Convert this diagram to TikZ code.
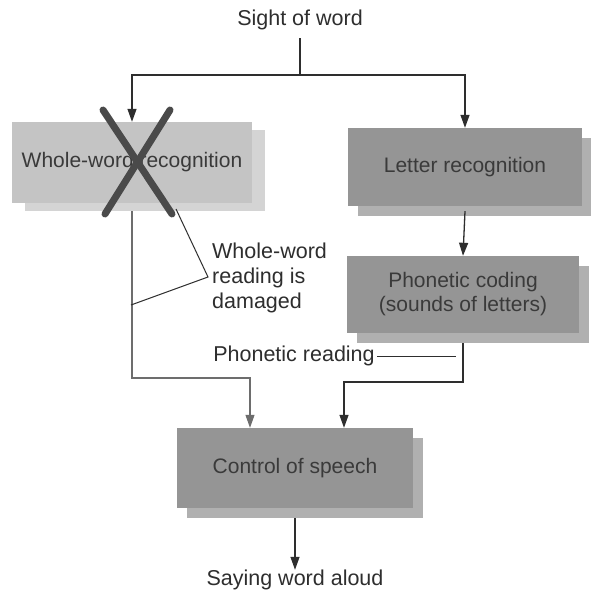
\documentclass[tikz,border=0pt]{standalone}
\usepackage{fontspec}
\setmainfont{Liberation Sans}
\usetikzlibrary{arrows.meta,shadows}
\definecolor{inkc}{HTML}{2E2E2E}
\definecolor{boxtext}{HTML}{3A3A3A}
\definecolor{lightbox}{HTML}{C4C4C4}
\definecolor{lightshadow}{HTML}{D4D4D4}
\definecolor{darkbox}{HTML}{959595}
\definecolor{darkshadow}{HTML}{B0B0B0}
\definecolor{xcol}{HTML}{4A4A4A}
\tikzset{
  lbl/.style={font=\fontsize{21.5}{25}\selectfont, text=inkc, inner sep=0pt},
  boxbase/.style={font=\fontsize{21}{24}\selectfont, text=boxtext, align=center, inner sep=0pt,
                  draw=none, minimum height=80pt},
  lightbx/.style={boxbase, fill=lightbox,
     copy shadow={shadow xshift=13pt, shadow yshift=-8pt, fill=lightshadow, draw=none}},
  darkbx/.style={boxbase, fill=darkbox,
     copy shadow={shadow xshift=10pt, shadow yshift=-10pt, fill=darkshadow, draw=none}},
  conn/.style={draw=inkc, line width=1.3pt},
  arr/.style={conn, -{Triangle[length=13pt,width=9pt]}},
  thinarr/.style={draw=inkc!70, line width=1.1pt, -{Triangle[length=13pt,width=9pt]}},
  xline/.style={draw=xcol, line width=7pt, line cap=round},
}
\begin{document}
\begin{tikzpicture}[x=1pt,y=-1pt]
\useasboundingbox[fill=white] (0,0) rectangle (590,594);

% nodes
\node[lbl] (sight) at (300,20) {Sight of word};
\node[lightbx, minimum width=240pt, minimum height=81pt] (ww) at (132,162.5) {Whole-word recognition};
\node[darkbx, minimum width=234pt, minimum height=78pt] (lr) at (465,167) {Letter recognition};
\node[darkbx, minimum width=232pt, minimum height=77pt] (pc) at (463,294.5) {Phonetic coding\\(sounds of letters)};
\node[darkbx, minimum width=236pt, minimum height=80pt] (cs) at (295,468) {Control of speech};
\node[lbl] (say) at (295,580) {Saying word aloud};
\node[lbl, align=left, anchor=west, font=\fontsize{21.5}{25}\selectfont] (dmg) at (212,278) {Whole-word\\reading is\\damaged};
\node[lbl] (pr) at (294,356) {Phonetic reading};

% coordinates
\coordinate (split) at (300,75);
\coordinate (d1) at (176,209);
\coordinate (d2) at (208,277);
\coordinate (d3) at (131,305);
\coordinate (jl) at (250,378);
\coordinate (jr) at (344,382);
\coordinate (prend) at (456,356);

% X over whole-word recognition
\draw[xline] (103,110) -- (172,214);
\draw[xline] (170,110) -- (105,214);

% connectors
\draw[conn] (sight.south) ++(0,8) -- (split);
\draw[arr] (split) -| (ww.north);
\draw[arr] (split) -| (lr.north);
\draw[arr] (lr.south) ++(0,5) -- (pc.north);
\draw[arr] (pc.south) ++(0,10) |- (jr) -- (jr |- cs.north);
\draw[thinarr] (ww.south) ++(0,8) |- (jl) -- (jl |- cs.north);
\draw[arr] (cs.south -| say.north) ++(0,10) -- (say.north);

% leader lines
\draw[conn, line width=1pt] (d1) -- (d2) -- (d3);
\draw[conn, line width=1pt] (pr.east) ++(2,0) -- (prend);
\end{tikzpicture}
\end{document}
